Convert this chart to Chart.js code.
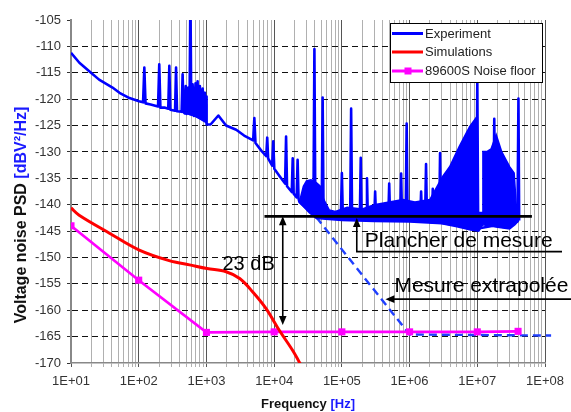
<!DOCTYPE html>
<html>
<head>
<meta charset="utf-8">
<script src="https://cdn.jsdelivr.net/npm/chart.js@4.4.1/dist/chart.umd.min.js"></script>
<style>
  html, body { margin: 0; padding: 0; background: #fff; }
  #wrap { width: 571px; height: 412px; position: relative; }
</style>
</head>
<body>
<div id="wrap"><canvas id="psd-chart"></canvas></div>
<script>
const FONT = "'Liberation Sans', Arial, Helvetica, sans-serif";

// measured spectrum [Hz, dBV²/Hz] - spikes are base / peak / base
const experiment = [
  [10, -111.2], [13.3, -113.1], [18.6, -114.7], [26, -116.3], [41, -117.8], [52, -118.8], [73, -119.8], [101, -120.4],
  [116, -120.6], [121, -114], [126, -120.8], [150, -121],
  [193, -121.4], [201, -113.4], [209, -121.6], [240, -121.6],
  [273, -121.8], [283, -113.7], [293, -122],
  [344, -122.2], [356, -114], [368, -122.3],
  [430, -122.4], [445, -115.3], [460, -122.5],
  [480, -122.7], [495, -117.5], [510, -122.8], [540, -117.8], [562, -122.8], [580, -100], [598, -122.9],
  [625, -117.2], [655, -123.2], [690, -117], [720, -123.3], [740, -116.6], [765, -123.4], [800, -117.5],
  [840, -123.6], [880, -118], [920, -123.8], [950, -118.8], [975, -124], [990, -119.5], [1000, -124.2],
  [1010, -124.8], [1150, -124.8], [1500, -123.1], [1950, -125], [2750, -125.8], [3600, -126.9],
  [4900, -127.8], [5100, -123.6], [5300, -128.3], [6500, -129.8],
  [7650, -130.8], [7900, -127.3], [8150, -131.2],
  [9350, -132.6], [9700, -128], [10050, -133.2], [11900, -134.5],
  [14500, -136], [15000, -127.1], [15500, -136.5],
  [18200, -137.6], [18800, -131.2], [19400, -137.9],
  [21500, -138.6], [22200, -131.5], [22900, -138.8],
  [23600, -139.5], [33000, -141.2],
  [38000, -141.8], [39300, -110.5], [40600, -141.9],
  [50300, -142.2], [52000, -119.7], [53700, -142.3],
  [96500, -142.5], [100000, -134], [103500, -142.5],
  [132500, -142.6], [137000, -121.8], [141500, -142.6],
  [184000, -142.7], [190000, -131.1], [196000, -142.7],
  [228000, -142.7], [235000, -135], [242000, -142.7],
  [300000, -142.8], [310000, -137.5], [320000, -142.8],
  [484000, -142.9], [500000, -136], [516000, -142.9],
  [725000, -143], [750000, -134.1], [775000, -143],
  [875000, -143], [905000, -124.6], [935000, -143],
  [1430000, -143.1], [1480000, -137.5], [1530000, -143.1],
  [1690000, -143.2], [1750000, -132.3], [1810000, -143.2],
  [2130000, -143.3], [2200000, -137], [2270000, -143.3],
  [2730000, -143.4], [2820000, -130.2], [2910000, -143.4],
  [9700000, -144.5], [10000000, -116.6], [10300000, -144.5],
  [17200000, -144], [17800000, -123.7], [18400000, -144],
  [39200000, -143.2], [40500000, -119.9], [41500000, -143]
];

// dense noise region of the measurement: upper and lower envelope
const noiseTop = [
  [23600, -139.5], [27000, -136.5], [30000, -135.5], [35000, -135.3], [42000, -135.8], [48000, -136.5],
  [54000, -139], [65000, -141], [80000, -141.3], [120000, -140.5], [200000, -140.8], [300000, -140],
  [500000, -139.5], [800000, -139], [1200000, -139.5], [2000000, -139], [3060000, -134.7],
  [3900000, -132.8], [5400000, -129], [7700000, -125.2], [10000000, -123.2], [10300000, -141.5],
  [11800000, -141.5], [12100000, -129.9], [14000000, -129.9], [16000000, -129.4], [19000000, -126.7],
  [23000000, -130], [30000000, -132.8], [35000000, -134], [38000000, -141], [41000000, -143]
];
const noiseBottom = [
  [23600, -139.5], [33000, -141.5], [42000, -142.6], [100000, -143], [300000, -143.2], [1000000, -143.3],
  [3000000, -143.6], [5000000, -144.2], [8000000, -144.8], [10500000, -145], [12000000, -143.8],
  [20000000, -144.3], [30000000, -144.6], [36000000, -143.8], [41000000, -143]
];

// noise cluster just below 1 kHz
const clusterTop = [
  [470, -122.6], [490, -119], [560, -118.5], [620, -118], [700, -117.8], [800, -118],
  [900, -118.5], [960, -119.5], [1000, -121], [1005, -124.5]
];
const clusterBottom = [[470, -122.6], [700, -123.3], [1005, -124.5]];

const simulation = [
  [10, -140.6], [13.2, -142], [37, -145.4], [102, -148.6], [282, -150.6], [562, -151.4], [1020, -152.1],
  [1950, -152.7], [3100, -154], [4800, -156.5], [7600, -159.7], [11900, -163.8], [18700, -167.6], [26400, -171]
];

const noiseFloor89600S = [
  [10, -144], [100, -154.3], [1000, -164.2], [10000, -164.1], [100000, -164.1],
  [1000000, -164.1], [10000000, -164.1], [40000000, -164]
];

const extrapolated = [[42000, -142.4], [1000000, -164.6], [123000000, -164.8]];
const measurementFloor = [[7200, -142.2], [64000000, -142.2]];

const xTickValues = [];
for (let e = 1; e <= 7; e++) {
  for (let k = 1; k <= 9; k++) xTickValues.push(k * Math.pow(10, e));
}
xTickValues.push(1e8);

const yMin = -170, yMax = -105, yStep = 5;

const toXY = arr => arr.map(([x, y]) => ({ x, y }));
const isDecade = v => Math.abs(Math.log10(v) - Math.round(Math.log10(v))) < 1e-9;

function arrowHead(ctx, tx, ty, dx, dy, len, half) {
  const bx = tx - dx * len, by = ty - dy * len;
  ctx.beginPath();
  ctx.moveTo(tx, ty);
  ctx.lineTo(bx - dy * half, by + dx * half);
  ctx.lineTo(bx + dy * half, by - dx * half);
  ctx.closePath();
  ctx.fill();
}

const overlayPlugin = {
  id: 'overlay',
  afterDatasetsDraw(chart) {
    const { ctx } = chart;
    const px = v => chart.scales.x.getPixelForValue(v);
    const py = v => chart.scales.y.getPixelForValue(v);
    ctx.save();
    ctx.strokeStyle = '#000';
    ctx.fillStyle = '#000';
    ctx.lineWidth = 1.6;

    // 23 dB double arrow
    const ax = px(13400), aTop = py(-142.2), aBot = py(-162.8);
    ctx.beginPath();
    ctx.moveTo(ax, aTop + 6);
    ctx.lineTo(ax, aBot - 6);
    ctx.stroke();
    arrowHead(ctx, ax, aTop, 0, -1, 9, 3.8);
    arrowHead(ctx, ax, aBot, 0, 1, 9, 3.8);
    ctx.font = '20px ' + FONT;
    ctx.textAlign = 'right';
    ctx.textBaseline = 'alphabetic';
    ctx.fillText('23 dB', ax - 8, py(-151) + 7);

    // Plancher de mesure callout
    const vx = px(166000), lineY = py(-148.9), tipY = py(-142.5);
    ctx.beginPath();
    ctx.moveTo(562, lineY);
    ctx.lineTo(vx, lineY);
    ctx.lineTo(vx, tipY + 6);
    ctx.stroke();
    arrowHead(ctx, vx, tipY, 0, -1, 9, 3.8);
    ctx.font = '21px ' + FONT;
    ctx.textAlign = 'left';
    ctx.fillText('Plancher de mesure', vx + 8, lineY - 4.5);

    // Mesure extrapolée callout
    const tx = px(440000), ly = py(-157.9);
    ctx.beginPath();
    ctx.moveTo(tx + 6, ly);
    ctx.lineTo(571, ly);
    ctx.stroke();
    arrowHead(ctx, tx, ly, -1, 0, 9, 3.8);
    ctx.fillText('Mesure extrapolée', tx + 9, ly - 7);
    ctx.restore();
  },
  afterDraw(chart) {
    const { ctx, chartArea } = chart;
    ctx.save();

    // legend box inside the plot
    const lx = 390, ly = 23, lw = 152, lh = 59;
    ctx.fillStyle = '#fff';
    ctx.fillRect(lx, ly, lw, lh);
    ctx.strokeStyle = '#000';
    ctx.lineWidth = 1;
    ctx.strokeRect(lx + 0.5, ly + 0.5, lw, lh);
    const rows = [33.5, 52, 71];
    ctx.font = '13px ' + FONT;
    ctx.textBaseline = 'middle';
    ctx.textAlign = 'left';
    [0, 1, 2].forEach((di, i) => {
      const ds = chart.data.datasets[di];
      ctx.strokeStyle = ds.borderColor;
      ctx.lineWidth = 3;
      ctx.beginPath();
      ctx.moveTo(lx + 2, rows[i]);
      ctx.lineTo(lx + 33, rows[i]);
      ctx.stroke();
      if (ds.pointRadius > 0) {
        ctx.fillStyle = ds.borderColor;
        ctx.fillRect(lx + 14.5, rows[i] - 3.5, 7, 7);
      }
      ctx.fillStyle = '#222';
      ctx.fillText(ds.label, lx + 35, rows[i] + 0.5);
    });

    // axis titles, unit part in blue
    const drawTitle = (parts, cx, cy, rot) => {
      ctx.save();
      ctx.translate(cx, cy);
      ctx.rotate(rot);
      const total = parts.reduce((s, p) => s + ctx.measureText(p[0]).width, 0);
      let x0 = -total / 2;
      parts.forEach(([txt, col]) => {
        ctx.fillStyle = col;
        ctx.fillText(txt, x0, 0);
        x0 += ctx.measureText(txt).width;
      });
      ctx.restore();
    };
    ctx.textBaseline = 'middle';
    ctx.font = 'bold 16px ' + FONT;
    drawTitle([['Voltage noise PSD ', '#111'], ['[dBV²/Hz]', '#1a1aff']], 22, 215, -Math.PI / 2);
    ctx.font = 'bold 13px ' + FONT;
    drawTitle([['Frequency ', '#111'], ['[Hz]', '#1a1aff']], (chartArea.left + chartArea.right) / 2, 404, 0);
    ctx.restore();
  }
};

const chart = new Chart(document.getElementById('psd-chart'), {
  type: 'line',
  data: {
    datasets: [
      {
        label: 'Experiment',
        data: toXY(experiment),
        borderColor: '#0000ff',
        borderWidth: 2.6,
        borderJoinStyle: 'round',
        pointRadius: 0,
        tension: 0,
        order: 3
      },
      {
        label: 'Simulations',
        data: toXY(simulation),
        borderColor: '#ff0000',
        borderWidth: 3,
        pointRadius: 0,
        tension: 0.35,
        order: 1
      },
      {
        label: '89600S Noise floor',
        data: toXY(noiseFloor89600S),
        borderColor: '#ff00ff',
        backgroundColor: '#ff00ff',
        borderWidth: 2.6,
        pointRadius: 5,
        pointStyle: 'rect',
        pointBorderWidth: 0,
        tension: 0,
        order: 2
      },
      {
        label: 'noise top',
        data: toXY(noiseTop),
        borderColor: '#0000ff',
        backgroundColor: '#0000ff',
        borderWidth: 1.5,
        pointRadius: 0,
        tension: 0,
        fill: '+1',
        order: 4
      },
      {
        label: 'noise bottom',
        data: toXY(noiseBottom),
        borderColor: '#0000ff',
        borderWidth: 1.5,
        pointRadius: 0,
        tension: 0,
        order: 4
      },
      {
        label: 'extrapolated',
        data: toXY(extrapolated),
        borderColor: '#1f3fff',
        borderWidth: 2.4,
        borderDash: [8, 5],
        pointRadius: 0,
        tension: 0,
        clip: { left: 0, top: 0, right: 8, bottom: 2 },
        order: 5
      },
      {
        label: 'floor',
        data: toXY(measurementFloor),
        borderColor: '#000',
        borderWidth: 2.8,
        pointRadius: 0,
        order: 0
      },
      {
        label: 'cluster top',
        data: toXY(clusterTop),
        borderColor: '#0000ff',
        backgroundColor: '#0000ff',
        borderWidth: 1.5,
        pointRadius: 0,
        tension: 0,
        fill: '+1',
        order: 4
      },
      {
        label: 'cluster bottom',
        data: toXY(clusterBottom),
        borderColor: '#0000ff',
        borderWidth: 1.5,
        pointRadius: 0,
        tension: 0,
        order: 4
      }
    ]
  },
  options: {
    responsive: true,
    maintainAspectRatio: false,
    animation: false,
    events: [],
    layout: { padding: { top: 20, right: 25, bottom: 0, left: 0 } },
    plugins: {
      legend: { display: false },
      tooltip: { enabled: false }
    },
    scales: {
      x: {
        type: 'logarithmic',
        min: 10,
        max: 1e8,
        afterBuildTicks: scale => { scale.ticks = xTickValues.map(v => ({ value: v })); },
        afterFit: scale => { scale.height = 49; },
        ticks: {
          autoSkip: false,
          maxRotation: 0,
          padding: 7,
          color: '#333',
          font: { family: FONT, size: 13 },
          callback: v => isDecade(v) ? '1E+' + String(Math.round(Math.log10(v))).padStart(2, '0') : ''
        },
        grid: {
          color: c => (c.tick && isDecade(c.tick.value)) ? '#555' : '#b0b0b0',
          lineWidth: 1,
          tickLength: 4
        },
        border: { color: '#888', width: 1.5 }
      },
      y: {
        type: 'linear',
        min: yMin,
        max: yMax,
        afterFit: scale => { scale.width = 71; },
        ticks: {
          stepSize: yStep,
          padding: 6,
          color: '#333',
          font: { family: FONT, size: 13 }
        },
        grid: {
          color: c => (c.tick && (c.tick.value === yMin || c.tick.value === yMax)) ? 'rgba(0,0,0,0)' : '#111',
          tickColor: '#333',
          lineWidth: 1,
          tickLength: 4
        },
        border: { color: '#888', width: 2, dash: [6, 4] }
      }
    }
  },
  plugins: [overlayPlugin]
});
</script>
</body>
</html>
